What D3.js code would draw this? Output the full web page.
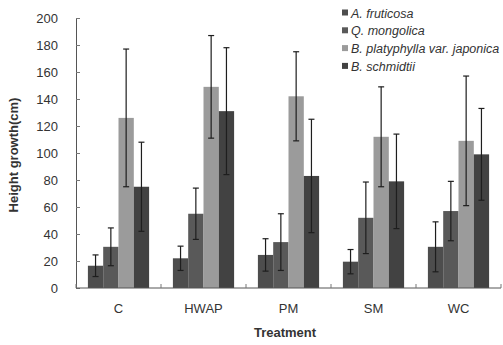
<!DOCTYPE html>
<html>
<head>
<meta charset="utf-8">
<script src="https://cdn.jsdelivr.net/npm/d3@7"></script>
<style>
  body { margin: 0; background: #fff; }
  text { font-family: "Liberation Sans", Arial, sans-serif; }
</style>
</head>
<body>
<div class="report"></div>
<script>
// treatments on the x axis
var treatments = ["C", "HWAP", "PM", "SM", "WC"];
var species = ["A. fruticosa", "Q. mongolica", "B. platyphylla var. japonica", "B. schmidtii"];
var yTicks = [0, 20, 40, 60, 80, 100, 120, 140, 160, 180, 200];

// mean height growth per species, one value per treatment
var fruticosa   = [16.5, 22, 24.5, 19.5, 30.5];
var mongolica   = [30.5, 55, 34, 52, 57];
var platyphylla = [126, 149, 142, 112, 109];
var schmidtii   = [75, 131, 83, 79, 99];

// standard deviations (error bars)
var fruticosaErr   = [8, 9, 12, 9, 18.5];
var mongolicaErr   = [14, 19, 21, 26.5, 22];
var platyphyllaErr = [51, 38, 33, 37, 48];
var schmidtiiErr   = [33, 47, 42, 35, 34];

var colors = ["#4d4d4d", "#595959", "#9b9b9b", "#424242"];

var means = [fruticosa, mongolica, platyphylla, schmidtii];
var errs = [fruticosaErr, mongolicaErr, platyphyllaErr, schmidtiiErr];

var width = 503, height = 345;
var svg = d3.select(".report").append("svg")
    .attr("width", width).attr("height", height);

var x0 = d3.scaleBand()
    .domain(treatments)
    .range([76, 501])
    .paddingInner(0.28)
    .paddingOuter(0.14);

var x1 = d3.scaleBand()
    .domain(d3.range(species.length))
    .range([0, x0.bandwidth()]);

var y = d3.scaleLinear()
    .domain([0, 200])
    .range([288, 18]);

// bars
var rows = [];
treatments.forEach(function (t, i) {
    species.forEach(function (s, j) {
        rows.push({t: t, s: j, v: means[j][i], e: errs[j][i]});
    });
});

svg.append("g").selectAll("rect")
    .data(rows)
    .enter().append("rect")
    .attr("x", function (d) { return x0(d.t) + x1(d.s); })
    .attr("y", function (d) { return y(d.v); })
    .attr("width", x1.bandwidth())
    .attr("height", function (d) { return y(0) - y(d.v); })
    .attr("fill", function (d) { return colors[d.s]; });

// error bars
var eb = svg.append("g").attr("stroke", "#1e1e1e").attr("stroke-width", 1.2);
rows.forEach(function (d) {
    var cx = x0(d.t) + x1(d.s) + x1.bandwidth() / 2;
    eb.append("line").attr("x1", cx).attr("x2", cx)
        .attr("y1", y(d.v + d.e)).attr("y2", y(d.v - d.e));
    [d.v + d.e, d.v - d.e].forEach(function (v) {
        eb.append("line").attr("x1", cx - 3).attr("x2", cx + 3)
            .attr("y1", y(v)).attr("y2", y(v));
    });
});

// y axis
var yAxis = svg.append("g")
    .attr("transform", "translate(76,0)")
    .call(d3.axisLeft(y).tickValues(yTicks).tickSize(-4).tickPadding(18));
yAxis.select(".domain").attr("stroke", "#555");
yAxis.selectAll(".tick line").attr("stroke", "#777");
yAxis.selectAll("text").attr("font-size", 13).attr("fill", "#333")
    .attr("font-family", "Liberation Sans, Arial, sans-serif");

// x axis with ticks between groups
var xAxis = svg.append("g").attr("transform", "translate(0,288)");
xAxis.append("line").attr("x1", 76).attr("x2", 501)
    .attr("y1", 0).attr("y2", 0).attr("stroke", "#555");
d3.range(treatments.length + 1).forEach(function (i) {
    var bx = 76 + i * (425 / treatments.length);
    xAxis.append("line").attr("x1", bx).attr("x2", bx)
        .attr("y1", 0).attr("y2", -4).attr("stroke", "#777");
});
xAxis.selectAll("text.lbl")
    .data(treatments)
    .enter().append("text")
    .attr("class", "lbl")
    .attr("x", function (d) { return x0(d) + x0.bandwidth() / 2; })
    .attr("y", 25)
    .attr("text-anchor", "middle")
    .attr("font-size", 13)
    .attr("fill", "#333")
    .text(function (d) { return d; });

// axis titles
svg.append("text")
    .attr("transform", "translate(18,155) rotate(-90)")
    .attr("text-anchor", "middle")
    .attr("font-size", 13)
    .attr("font-weight", "bold")
    .attr("fill", "#333")
    .text("Height growth(cm)");

svg.append("text")
    .attr("x", 285).attr("y", 337)
    .attr("text-anchor", "middle")
    .attr("font-size", 13)
    .attr("font-weight", "bold")
    .attr("fill", "#333")
    .text("Treatment");

// legend
var legend = svg.append("g").attr("transform", "translate(342,0)");
species.forEach(function (s, i) {
    var ly = 13 + i * 17.8;
    legend.append("rect").attr("x", 0).attr("y", ly - 3.5)
        .attr("width", 6).attr("height", 6).attr("fill", colors[i]);
    legend.append("text").attr("x", 9).attr("y", ly + 4.5)
        .attr("font-size", 12.5).attr("font-style", "italic").attr("fill", "#333")
        .text(s);
});
</script>
</body>
</html>
